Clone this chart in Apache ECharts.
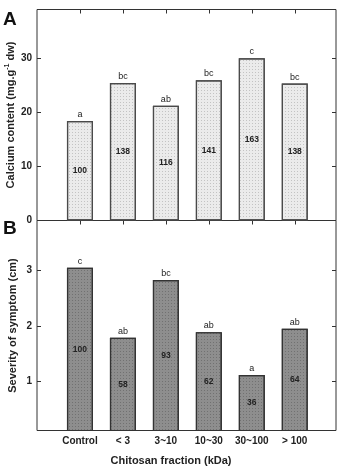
<!DOCTYPE html>
<html>
<head>
<meta charset="utf-8">
<script src="https://cdn.jsdelivr.net/npm/echarts@6/dist/echarts.min.js"></script>
<style>
  html, body { margin: 0; padding: 0; background: #fff; }
  #chart { width: 342px; height: 471px; }
</style>
</head>
<body>
<div id="chart"></div>
<script>
// 分组
const categories = ['Control', '< 3', '3~10', '10~30', '30~100', '> 100'];

// A: calcium content
const calcium = [18.4, 25.4, 21.2, 25.9, 30.0, 25.3];
const calciumPct = ['100', '138', '116', '141', '163', '138'];
const calciumLetters = ['a', 'bc', 'ab', 'bc', 'c', 'bc'];

// B: severity of symptom
const severity = [3.05, 1.79, 2.83, 1.89, 1.12, 1.95];
const severityPct = ['100', '58', '93', '62', '36', '64'];
const severityLetters = ['c', 'ab', 'bc', 'ab', 'a', 'ab'];

const calciumTicks = [0, 10, 20, 30];
const severityTicks = [1, 2, 3];

const font = 'Liberation Sans, Arial, sans-serif';
const xIdx = categories.map((c, i) => i);

let el = document.getElementById('chart');
let chart = echarts.init(el, null, { renderer: 'canvas' });

function pairs(vals) {
  return vals.map((v, i) => [i, v]);
}

function frameX(gridIndex, position, showTick, showLabel) {
  return {
    type: 'value',
    gridIndex: gridIndex,
    position: position,
    min: -1,
    max: 5.96,
    axisLine: { show: false, onZero: false },
    splitLine: { show: false },
    axisTick: {
      show: showTick,
      inside: true,
      length: 4,
      lineStyle: { color: '#333' },
      customValues: xIdx
    },
    axisLabel: {
      show: showLabel,
      customValues: xIdx,
      formatter: v => categories[Math.round(v)] || '',
      fontFamily: font,
      fontWeight: 'bold',
      fontSize: 10,
      color: '#222',
      margin: 6
    }
  };
}

function barPair(gridIndex, values, pct, letters, fill, dots, border) {
  return [{
    type: 'bar',
    xAxisIndex: gridIndex * 2,
    yAxisIndex: gridIndex * 2,
    barWidth: 26,
    barGap: '-100%',
    data: pairs(values),
    itemStyle: {
      color: fill,
      borderColor: border,
      borderWidth: 1.2,
      decal: {
        symbol: 'rect',
        symbolSize: 1,
        dashArrayX: [1, 2],
        dashArrayY: [1, 2],
        color: dots
      }
    },
    label: {
      show: true,
      position: 'inside',
      formatter: p => pct[p.dataIndex],
      fontFamily: font,
      fontWeight: 'bold',
      fontSize: 8.5,
      color: '#222'
    },
    silent: true
  }, {
    type: 'bar',
    xAxisIndex: gridIndex * 2,
    yAxisIndex: gridIndex * 2,
    barWidth: 26,
    barGap: '-100%',
    data: pairs(values),
    itemStyle: { color: 'rgba(0,0,0,0)' },
    label: {
      show: true,
      position: 'top',
      distance: 2,
      formatter: p => letters[p.dataIndex],
      fontFamily: font,
      fontSize: 9,
      color: '#222'
    },
    silent: true
  }];
}

function sideY(gridIndex, position, min, max, ticks, labels, name, nameGap) {
  return {
    type: 'value',
    gridIndex: gridIndex,
    position: position,
    min: min,
    max: max,
    axisLine: { show: false, onZero: false },
    splitLine: { show: false },
    axisTick: {
      show: true,
      inside: true,
      length: 4,
      lineStyle: { color: '#333' },
      customValues: ticks
    },
    axisLabel: {
      show: labels != null,
      customValues: labels || ticks,
      fontFamily: font,
      fontWeight: 'bold',
      fontSize: 10,
      color: '#222',
      margin: 5
    },
    name: name,
    nameLocation: 'middle',
    nameGap: nameGap,
    nameMoveOverlap: false,
    nameTextStyle: {
      fontFamily: font,
      fontWeight: 'bold',
      fontSize: 11,
      color: '#222',
      rich: {
        sup: { fontFamily: font, fontWeight: 'bold', fontSize: 7, color: '#222', padding: [0, 0, 7, 0] }
      }
    }
  };
}

let option = {
  backgroundColor: '#fff',
  animation: false,
  title: [
    { text: 'A', left: 3, top: 10, padding: 0, textStyle: { fontFamily: font, fontWeight: 'bold', fontSize: 19, color: '#111' } },
    { text: 'B', left: 3, top: 219, padding: 0, textStyle: { fontFamily: font, fontWeight: 'bold', fontSize: 19, color: '#111' } }
  ],
  grid: [
    { left: 37, right: 6, top: 9.5, height: 211, outerBoundsMode: 'none', containLabel: false, show: true, borderColor: '#333', borderWidth: 1, backgroundColor: 'transparent' },
    { left: 37, right: 6, top: 220.5, height: 210, outerBoundsMode: 'none', containLabel: false, show: true, borderColor: '#333', borderWidth: 1, backgroundColor: 'transparent' }
  ],
  xAxis: [
    frameX(0, 'bottom', false, false),
    frameX(0, 'top', true, false),
    Object.assign(frameX(1, 'bottom', false, true), {
      name: 'Chitosan fraction (kDa)',
      nameLocation: 'middle',
      nameGap: 25,
      nameMoveOverlap: false,
      nameTextStyle: {
        fontFamily: font, fontWeight: 'bold', fontSize: 11, color: '#222',
        padding: [0, 31, 0, 0]
      }
    }),
    frameX(1, 'top', true, false)
  ],
  yAxis: [
    sideY(0, 'left', 0, 39, [10, 20, 30], calciumTicks, 'Calcium content (mg.g{sup|-1} dw)', 19),
    sideY(0, 'right', 0, 39, [10, 20, 30], null, '', 0),
    sideY(1, 'left', 0.12, 3.9, severityTicks, severityTicks, 'Severity of symptom (cm)', 19),
    sideY(1, 'right', 0.12, 3.9, severityTicks, null, '', 0)
  ],
  series: [].concat(
    barPair(0, calcium, calciumPct, calciumLetters, '#ebebeb', 'rgba(120,120,120,0.35)', '#4a4a4a'),
    barPair(1, severity, severityPct, severityLetters, '#8e8e8e', 'rgba(60,60,60,0.35)', '#333')
  )
};

// 绘制
chart.setOption(option);
</script>
</body>
</html>
